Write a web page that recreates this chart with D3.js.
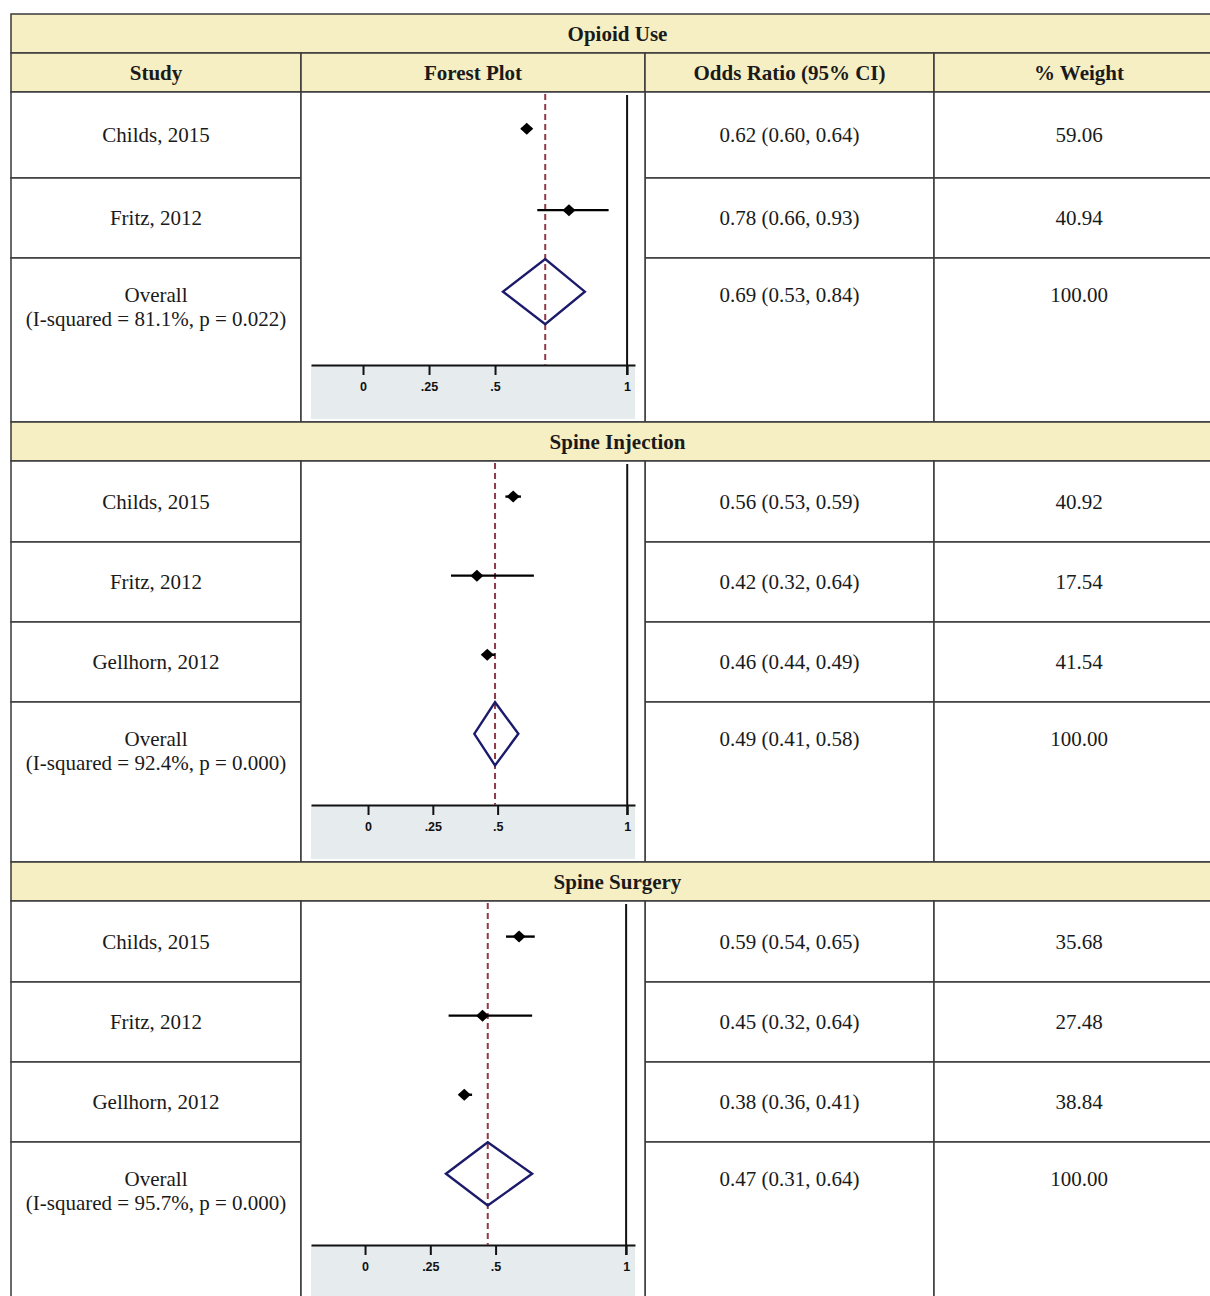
<!DOCTYPE html>
<html>
<head>
<meta charset="utf-8">
<script src="https://cdn.jsdelivr.net/npm/d3@7"></script>
<style>
  html, body { margin: 0; padding: 0; background: #ffffff; }
  svg { display: block; }
</style>
</head>
<body>
<svg id="chart" width="1210" height="1296"></svg>
<script>
// ---- Data -------------------------------------------------------------
const sectionTitles = ["Opioid Use", "Spine Injection", "Spine Surgery"];
const columnHeaders = ["Study", "Forest Plot", "Odds Ratio (95% CI)", "% Weight"];

const studyNames = [
  ["Childs, 2015", "Fritz, 2012"],
  ["Childs, 2015", "Fritz, 2012", "Gellhorn, 2012"],
  ["Childs, 2015", "Fritz, 2012", "Gellhorn, 2012"]
];
const oddsRatio = [[0.62, 0.78], [0.56, 0.42, 0.46], [0.59, 0.45, 0.38]];
const ciLower   = [[0.60, 0.66], [0.53, 0.32, 0.44], [0.54, 0.32, 0.36]];
const ciUpper   = [[0.64, 0.93], [0.59, 0.64, 0.49], [0.65, 0.64, 0.41]];
const weights   = [[59.06, 40.94], [40.92, 17.54, 41.54], [35.68, 27.48, 38.84]];

const pooledOR    = [0.69, 0.49, 0.47];
const pooledLower = [0.53, 0.41, 0.31];
const pooledUpper = [0.84, 0.58, 0.64];
const iSquared    = [81.1, 92.4, 95.7];
const pValues     = ["0.022", "0.000", "0.000"];

const tickValues = [0, 0.25, 0.5, 1];
const tickLabels = ["0", ".25", ".5", "1"];

// ---- Layout -----------------------------------------------------------
const colX = [11, 301, 645, 934, 1224];
const titleH = 39, headerH = 39;
const studyRowH = [[86, 80], [81, 80, 80], [81, 80, 80]];
const overallRowH = [164, 160, 160];
const axisMin = [-0.197, -0.22, -0.207];   // left end of each plot's axis
const axisMax = [1.03, 1.03, 1.034];

const headerFill = "#f6efc4";
const borderCol = "#3a3a3a";
const serif = "'Liberation Serif', 'Times New Roman', serif";
const sans = "'Liberation Sans', Arial, Helvetica, sans-serif";
const fmt2 = d3.format(".2f");

const svg = d3.select("#chart");

const tableG = svg.append("g");
const plotG = svg.append("g");

function cell(x0, x1, y0, y1, fill) {
  tableG.append("rect")
    .attr("x", x0).attr("y", y0)
    .attr("width", x1 - x0).attr("height", y1 - y0)
    .attr("fill", fill || "#ffffff")
    .attr("stroke", borderCol).attr("stroke-width", 1.5);
}
function text(x, y, str, opts = {}) {
  tableG.append("text")
    .attr("x", x).attr("y", y)
    .attr("text-anchor", "middle")
    .attr("dominant-baseline", "central")
    .attr("font-family", serif)
    .attr("font-size", 21)
    .attr("font-weight", opts.bold ? "bold" : "normal")
    .attr("fill", "#1a1a1a")
    .text(str);
}

const midX = i => (colX[i] + colX[i + 1]) / 2;

let y = 14;
sectionTitles.forEach((title, s) => {
  // section title bar
  cell(colX[0], colX[4], y, y + titleH, headerFill);
  text((colX[0] + colX[4]) / 2, y + titleH / 2, title, { bold: true });
  y += titleH;

  // column headers (only under the first section title)
  if (s === 0) {
    columnHeaders.forEach((h, c) => {
      cell(colX[c], colX[c + 1], y, y + headerH, headerFill);
      text(midX(c), y + headerH / 2, h, { bold: true });
    });
    y += headerH;
  }

  const plotTop = y;
  const names = studyNames[s];

  // study rows
  names.forEach((name, i) => {
    const h = studyRowH[s][i];
    const cy = y + h / 2;
    [0, 2, 3].forEach(c => cell(colX[c], colX[c + 1], y, y + h));
    text(midX(0), cy, name);
    text(midX(2), cy, `${fmt2(oddsRatio[s][i])} (${fmt2(ciLower[s][i])}, ${fmt2(ciUpper[s][i])})`);
    text(midX(3), cy, fmt2(weights[s][i]));
    y += h;
  });

  // overall row
  const oh = overallRowH[s];
  [0, 2, 3].forEach(c => cell(colX[c], colX[c + 1], y, y + oh));
  text(midX(0), y + 37, "Overall");
  text(midX(0), y + 61, `(I-squared = ${iSquared[s].toFixed(1)}%, p = ${pValues[s]})`);
  text(midX(2), y + 37, `${fmt2(pooledOR[s])} (${fmt2(pooledLower[s])}, ${fmt2(pooledUpper[s])})`);
  text(midX(3), y + 37, "100.00");
  y += oh;

  const plotBottom = y;
  cell(colX[1], colX[2], plotTop, plotBottom);

  // ---- forest plot for this section ----
  const axisY = plotBottom - 57;
  const nRows = names.length + 1;
  const xs = d3.scaleLinear().domain([axisMin[s], axisMax[s]]).range([311, 635]);
  const ys = d3.scaleLinear().domain([-0.45, nRows - 1 + 0.9]).range([plotTop, axisY]);
  const step = ys(1) - ys(0);
  const g = plotG.append("g");

  // shaded axis panel
  g.append("rect")
    .attr("x", xs.range()[0]).attr("y", axisY)
    .attr("width", xs.range()[1] - xs.range()[0])
    .attr("height", plotBottom - 3 - axisY)
    .attr("fill", "#e6ebee");

  // axis
  const axis = d3.axisBottom(xs)
    .tickValues(tickValues)
    .tickFormat((d, i) => tickLabels[i])
    .tickSize(10)
    .tickSizeOuter(0)
    .tickPadding(7);
  const ag = g.append("g").attr("transform", `translate(0,${axisY})`).call(axis);
  ag.select(".domain").attr("stroke", "#111").attr("stroke-width", 2);
  ag.selectAll(".tick line").attr("stroke", "#111").attr("stroke-width", 2);
  ag.selectAll(".tick text")
    .attr("font-family", sans).attr("font-size", 12.5).attr("font-weight", "bold")
    .attr("fill", "#111");

  // line of no effect
  g.append("line")
    .attr("x1", xs(1)).attr("x2", xs(1))
    .attr("y1", plotTop + 3).attr("y2", axisY + 10)
    .attr("stroke", "#111").attr("stroke-width", 2);

  // pooled estimate reference line
  g.append("line")
    .attr("x1", xs(pooledOR[s])).attr("x2", xs(pooledOR[s]))
    .attr("y1", plotTop + 2).attr("y2", axisY)
    .attr("stroke", "#8e3a48").attr("stroke-width", 2)
    .attr("stroke-dasharray", "6,4");

  // study confidence intervals and point estimates
  names.forEach((name, i) => {
    const cy = ys(i);
    g.append("line")
      .attr("x1", xs(ciLower[s][i])).attr("x2", xs(ciUpper[s][i]))
      .attr("y1", cy).attr("y2", cy)
      .attr("stroke", "#000").attr("stroke-width", 2.4);
    const cx = xs(oddsRatio[s][i]);
    g.append("path")
      .attr("d", `M${cx - 6.5},${cy}L${cx},${cy - 6}L${cx + 6.5},${cy}L${cx},${cy + 6}Z`)
      .attr("fill", "#000");
  });

  // pooled diamond
  const dy = ys(names.length), dh = step * 0.4;
  g.append("path")
    .attr("d", `M${xs(pooledLower[s])},${dy}L${xs(pooledOR[s])},${dy - dh}` +
               `L${xs(pooledUpper[s])},${dy}L${xs(pooledOR[s])},${dy + dh}Z`)
    .attr("fill", "none")
    .attr("stroke", "#1c1a6a").attr("stroke-width", 2.4)
    .attr("stroke-linejoin", "miter");
});
</script>
</body>
</html>
